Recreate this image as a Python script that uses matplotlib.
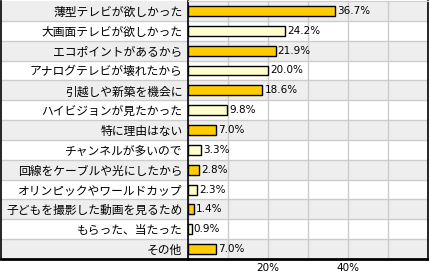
"""
horizontal bar chart of reasons for buying a new TV
"""
import matplotlib
matplotlib.use('Agg')
import matplotlib.pyplot as plt

plt.rcParams['font.family'] = ['Noto Sans CJK JP', 'DejaVu Sans']

reasons = ['薄型テレビが欲しかった', '大画面テレビが欲しかった', 'エコポイントがあるから',
           'アナログテレビが壊れたから', '引越しや新築を機会に', 'ハイビジョンが見たかった',
           '特に理由はない', 'チャンネルが多いので', '回線をケーブルや光にしたから',
           'オリンピックやワールドカップ', '子どもを撮影した動画を見るため',
           'もらった、当たった', 'その他']
percents = [36.7, 24.2, 21.9, 20.0, 18.6, 9.8, 7.0, 3.3, 2.8, 2.3, 1.4, 0.9, 7.0]
tick_values = [0, 10, 20, 30, 40, 50, 60]
tick_labels = ['', '', '20%', '', '40%', '', '']


def plot_maker():
    W, H = 429, 275
    fig = plt.figure(figsize=(W / 100, H / 100), dpi=100)
    bottom = (H - 259) / H
    height = 258 / H
    ax_lab = fig.add_axes([1 / W, bottom, 187 / W, height])
    ax = fig.add_axes([188 / W, bottom, 240 / W, height], sharey=ax_lab)

    n = len(reasons)
    for a in (ax_lab, ax):
        for i in range(n):
            if i % 2 == 0:
                a.axhspan(i - 0.5, i + 0.5, color='#eeeeee', lw=0, zorder=0)
            if i < n - 1:
                a.axhline(i + 0.5, color='#cccccc', lw=1, zorder=1)

    ax_lab.set_xticks([])
    ax_lab.tick_params(axis='y', length=0, left=False, labelleft=False)
    for side in ['top', 'right']:
        ax_lab.spines[side].set_visible(False)
    ax_lab.spines['left'].set_linewidth(1.2)
    ax_lab.spines['bottom'].set_linewidth(2)

    colors = ['#ffcc00' if i % 2 == 0 else '#ffffcc' for i in range(n)]
    ax.barh(range(n), percents, height=0.5, color=colors, edgecolor='black',
            linewidth=1, zorder=3)
    for i, v in enumerate(percents):
        ax.annotate(f'{v:.1f}%', (v, i), xytext=(1.5, 0), textcoords='offset points',
                    va='center', ha='left', fontsize=7.5, family='DejaVu Sans')

    ax.set_xlim(0, 60)
    ax.set_ylim(n - 0.5, -0.5)
    ax.set_xticks(tick_values, tick_labels, fontsize=7.5, family='DejaVu Sans')
    ax.grid(axis='x', color='#cccccc', lw=1, zorder=1)
    ax.set_axisbelow(True)
    ax.tick_params(axis='x', length=0, pad=3)
    ax.set_yticks(range(n), reasons, fontsize=8.5)
    ax.tick_params(axis='y', length=0, pad=4)
    ax.spines['top'].set_color('#cccccc')
    ax.spines['left'].set_linewidth(1.2)
    ax.spines['right'].set_linewidth(1.2)
    ax.spines['bottom'].set_linewidth(2)

    fig.savefig('out.png', dpi=100)


if __name__ == '__main__':
    plot_maker()
